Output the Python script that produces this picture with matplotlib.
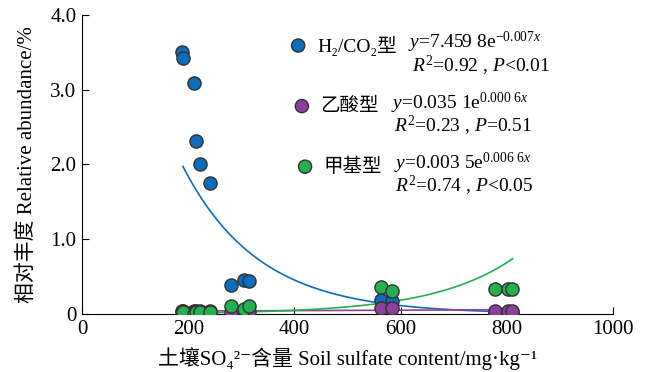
import numpy as np
import matplotlib
matplotlib.use('Agg')
import matplotlib.pyplot as plt

plt.rcParams['font.family'] = ['Liberation Serif', 'Noto Sans CJK SC', 'DejaVu Sans']
plt.rcParams['mathtext.fontset'] = 'custom'
plt.rcParams['mathtext.rm'] = 'Liberation Serif'
plt.rcParams['mathtext.it'] = 'Liberation Serif:italic'

# 土壤硫酸盐含量 (mg/kg)
sulfate = [189, 190, 211, 214, 222, 241, 280, 305, 315, 563, 584, 778, 803, 809]
# 相对丰度 (%)
h2co2 = [3.50, 3.43, 3.09, 2.31, 2.00, 1.75, 0.39, 0.46, 0.44, 0.19, 0.18, 0.03, 0.03, 0.03]
acetate = [0.04, 0.04, 0.04, 0.04, 0.04, 0.04, 0.02, 0.04, 0.03, 0.08, 0.08, 0.04, 0.04, 0.04]
methyl = [0.03, 0.03, 0.00, 0.02, 0.03, 0.03, 0.10, 0.07, 0.11, 0.36, 0.31, 0.34, 0.34, 0.34]

# 指数拟合参数 y = a*exp(b*x)
fit_a = [7.4598, 0.0351, 0.0035]
fit_b = [-0.007, 0.0006, 0.0066]

c_blue = '#0a6ebd'
c_purple = '#8e3f9e'
c_green = '#22b14c'
colors = [c_blue, c_purple, c_green]

fig = plt.figure(figsize=(6.46, 3.72), dpi=100)
ax = fig.add_axes([0.127, 0.156, 0.822, 0.804])

xs = np.linspace(190, 811, 300)
for a, b, c in zip(fit_a, fit_b, colors):
    ax.plot(xs, a * np.exp(b * xs), color=c, lw=1.2, zorder=2)

for ys, c in zip([h2co2, acetate, methyl], colors):
    ax.scatter(sulfate, ys, s=90, color=c, edgecolors='#333333', linewidths=1.0, zorder=3)

# 图例及拟合方程
fs = 14
ax.scatter([407, 414, 420], [3.59, 2.78, 1.97], s=90, color=colors,
           edgecolors='#333333', linewidths=1.0, zorder=3, clip_on=False)
ax.text(444, 3.59, 'H₂/CO₂型', fontsize=fs, va='center')
ax.text(448, 2.78, '乙酸型', fontsize=fs, va='center')
ax.text(454, 1.97, '甲基型', fontsize=fs, va='center')

eqs = [
    (614, 3.63, r'$y$=7.459 8e$^{\mathrm{-0.007}x}$'),
    (621, 3.32, r'$R^{\mathrm{2}}$=0.92 , $P$<0.01'),
    (582, 2.82, r'$y$=0.035 1e$^{\mathrm{0.000\ 6}x}$'),
    (588, 2.52, r'$R^{\mathrm{2}}$=0.23 , $P$=0.51'),
    (588, 2.01, r'$y$=0.003 5e$^{\mathrm{0.006\ 6}x}$'),
    (590, 1.71, r'$R^{\mathrm{2}}$=0.74 , $P$<0.05'),
]
for x, y, s in eqs:
    ax.text(x, y, s, fontsize=fs, va='center')

ax.set_xlim(0, 1000)
ax.set_ylim(0, 4.0)
ax.set_xticks([0, 200, 400, 600, 800, 1000])
ax.set_yticks([0, 1, 2, 3, 4])
ax.set_yticklabels(['0', '1.0', '2.0', '3.0', '4.0'])
ax.tick_params(direction='in', length=5, width=0.8, labelsize=15, pad=4)
ax.spines['top'].set_visible(False)
ax.spines['right'].set_visible(False)
for s in ['left', 'bottom']:
    ax.spines[s].set_linewidth(0.8)

ax.set_xlabel('土壤SO₄²⁻含量 Soil sulfate content/mg·kg⁻¹', fontsize=15, labelpad=6)
ax.set_ylabel('相对丰度 Relative abundance/%', fontsize=15, labelpad=10)

fig.savefig('out.png', dpi=100)
